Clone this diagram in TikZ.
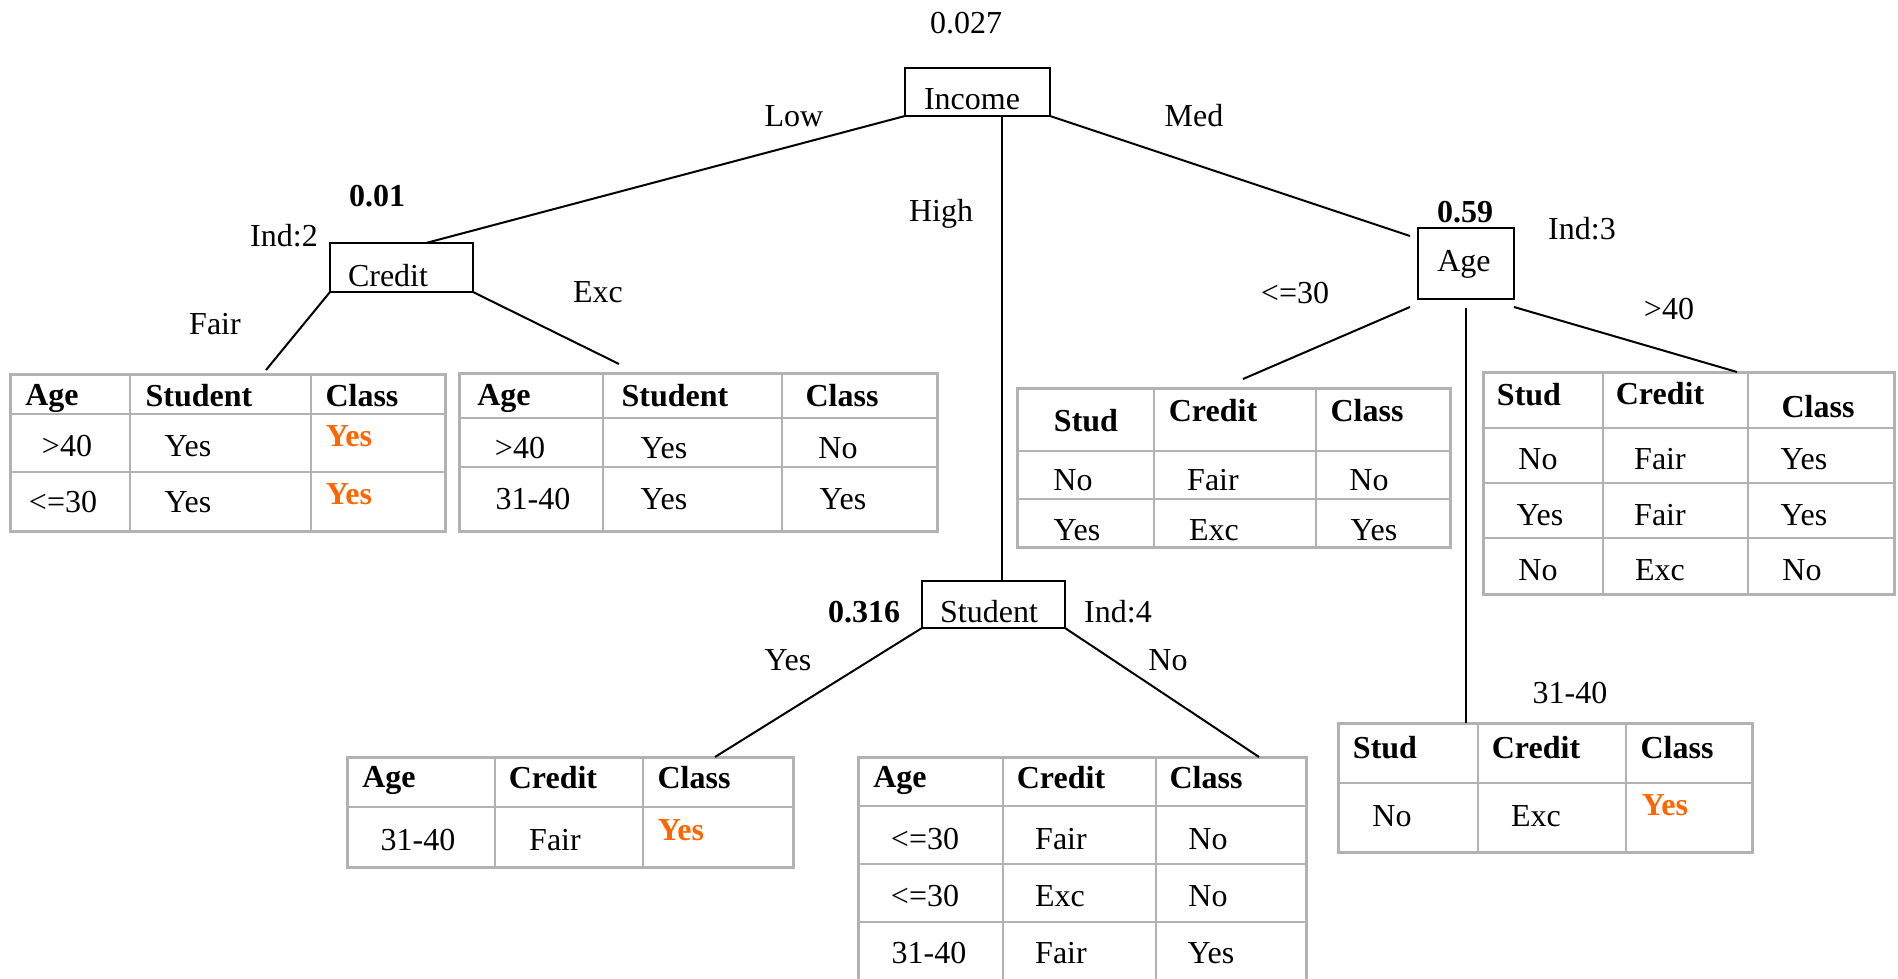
\documentclass[tikz,border=0pt]{standalone}
\usepackage{fontspec}
\setmainfont{Liberation Serif}
\definecolor{tgray}{RGB}{178,178,178}
\definecolor{hiorange}{RGB}{255,102,0}
\begin{document}
\begin{tikzpicture}[x=1pt,y=-1pt,
  font=\fontsize{32}{38}\selectfont,
  box/.style={draw=black, line width=2.5pt, inner sep=0pt, outer sep=0pt},
  edge/.style={draw=black, line width=2pt},
  tbl/.style={draw=tgray, line width=3pt, inner sep=0pt, outer sep=0pt},
  grid/.style={draw=tgray, line width=1.6pt},
  lbl/.style={inner sep=0pt, text height=22pt, text depth=0pt, anchor=center},
  bl/.style={lbl, font=\fontsize{32}{38}\selectfont\bfseries},
  hy/.style={bl, text=hiorange}]
\useasboundingbox (0,0) rectangle (1898,979);
\clip (0,0) rectangle (1898,979);

% ---------- tables ----------
\draw[grid] (130,374)--(130,531) (311,374)--(311,531) (10,414)--(445,414) (10,472)--(445,472);
\node[tbl, minimum width=435pt, minimum height=157pt] (t1) at (227.5,452.5) {};
\draw[grid] (603,373)--(603,531) (782,373)--(782,531) (459,418)--(937,418) (459,467)--(937,467);
\node[tbl, minimum width=478pt, minimum height=158pt] (t2) at (698,452) {};
\draw[grid] (1154,388)--(1154,547) (1316,388)--(1316,547) (1017,451)--(1450,451) (1017,499)--(1450,499);
\node[tbl, minimum width=433pt, minimum height=159pt] (t3) at (1233.5,467.5) {};
\draw[grid] (1603,372)--(1603,594) (1748,372)--(1748,594) (1483,428)--(1894,428) (1483,483)--(1894,483) (1483,538)--(1894,538);
\node[tbl, minimum width=411pt, minimum height=222pt] (t4) at (1688.5,483) {};
\draw[grid] (1478,723)--(1478,852) (1626,723)--(1626,852) (1338,783)--(1752,783);
\node[tbl, minimum width=414pt, minimum height=129pt] (t5) at (1545,787.5) {};
\draw[grid] (495,757)--(495,867) (643,757)--(643,867) (347,807)--(793,807);
\node[tbl, minimum width=446pt, minimum height=110pt] (t6) at (570,812) {};
\draw[grid] (1003,757)--(1003,1000) (1156,757)--(1156,1000) (858,806)--(1306,806) (858,864)--(1306,864) (858,922)--(1306,922);
\node[tbl, minimum width=448pt, minimum height=243pt] (t7) at (1082,878.5) {};

% ---------- decision boxes ----------
\node[box, minimum width=145pt, minimum height=48pt] (inc) at (977.5,92) {};
\node[box, minimum width=143pt, minimum height=49pt] (cred) at (401.5,267.5) {};
\node[box, minimum width=96pt, minimum height=71pt] (age) at (1466,263.5) {};
\node[box, minimum width=143pt, minimum height=47pt] (stud) at (993.5,604.5) {};

% ---------- connectors ----------
\coordinate (c1) at (266,370);
\coordinate (c2) at (619,364);
\coordinate (c3) at (1243,379);
\coordinate (c4) at (1737,372);
\draw[edge] (inc.south west) -- ([xshift=24.5pt]cred.north);
\draw[edge] ([xshift=24.5pt]inc.south) -- ([xshift=8.5pt]stud.north);
\draw[edge] (inc.south east) -- ([xshift=-8pt,yshift=-8pt]age.north west);
\draw[edge] (cred.south west) -- (c1);
\draw[edge] (cred.south east) -- (c2);
\draw[edge] ([xshift=-8pt,yshift=-8pt]age.south west) -- (c3);
\draw[edge] ([yshift=-9pt]age.south) -- (age.south |- t5.north);
\draw[edge] ([yshift=-8pt]age.south east) -- (c4);
\draw[edge] (stud.south west) -- ([xshift=145pt]t6.north);
\draw[edge] (stud.south east) -- ([xshift=177pt]t7.north);

% ---------- box texts and labels ----------
\node[lbl] (incT) at (972,99) {Income};
\node[lbl] (credT) at (388,275) {Credit};
\node[lbl] (ageT) at (1464,260) {Age};
\node[lbl] (studT) at (989,611) {Student};
\node[lbl] (v027) at (966,23) {0.027};
\node[bl] (v001) at (377,195) {0.01};
\node[bl] (v059) at (1465,211) {0.59};
\node[bl] (v0316) at (864,611) {0.316};
\node[lbl] (ind2) at (284,235) {Ind:2};
\node[lbl] (ind3) at (1582,228) {Ind:3};
\node[lbl] (ind4) at (1118,611) {Ind:4};
\node[lbl] (lLow) at (794,116) {Low};
\node[lbl] (lMed) at (1194,116) {Med};
\node[lbl] (lHigh) at (941,210) {High};
\node[lbl] (lFair) at (215,323) {Fair};
\node[lbl] (lExc) at (598,291) {Exc};
\node[lbl] (lLe30) at (1295,292) {<=30};
\node[lbl] (lGt40) at (1669,308) {>40};
\node[lbl] (l3140) at (1570,692) {31-40};
\node[lbl] (lYes) at (788,659) {Yes};
\node[lbl] (lNo) at (1168,659) {No};

% table 1
\node[bl] (a11) at (52,394) {Age};
\node[bl] (a12) at (199,395) {Student};
\node[bl] (a13) at (362,395) {Class};
\node[lbl] (a21) at (67,445) {>40};
\node[lbl] (a22) at (188,445) {Yes};
\node[hy] (a23) at (349,435) {Yes};
\node[lbl] (a31) at (63,501) {<=30};
\node[lbl] (a32) at (188,501) {Yes};
\node[hy] (a33) at (349,493) {Yes};
% table 2
\node[bl] (b11) at (504,394) {Age};
\node[bl] (b12) at (675,395) {Student};
\node[bl] (b13) at (842,395) {Class};
\node[lbl] (b21) at (520,447) {>40};
\node[lbl] (b22) at (664,447) {Yes};
\node[lbl] (b23) at (838,447) {No};
\node[lbl] (b31) at (533,498) {31-40};
\node[lbl] (b32) at (664,498) {Yes};
\node[lbl] (b33) at (843,498) {Yes};
% table 3 (<=30)
\node[bl] (c11) at (1086,420) {Stud};
\node[bl] (c12) at (1213,410) {Credit};
\node[bl] (c13) at (1367,410) {Class};
\node[lbl] (c21) at (1073,479) {No};
\node[lbl] (c22) at (1213,479) {Fair};
\node[lbl] (c23) at (1369,479) {No};
\node[lbl] (c31) at (1077,529) {Yes};
\node[lbl] (c32) at (1214,529) {Exc};
\node[lbl] (c33) at (1374,529) {Yes};
% table 4 (>40)
\node[bl] (d11) at (1529,394) {Stud};
\node[bl] (d12) at (1660,393) {Credit};
\node[bl] (d13) at (1818,406) {Class};
\node[lbl] (d21) at (1538,458) {No};
\node[lbl] (d22) at (1660,458) {Fair};
\node[lbl] (d23) at (1804,458) {Yes};
\node[lbl] (d31) at (1540,514) {Yes};
\node[lbl] (d32) at (1660,514) {Fair};
\node[lbl] (d33) at (1804,514) {Yes};
\node[lbl] (d41) at (1538,569) {No};
\node[lbl] (d42) at (1660,569) {Exc};
\node[lbl] (d43) at (1802,569) {No};
% table 5 (31-40)
\node[bl] (e11) at (1385,747) {Stud};
\node[bl] (e12) at (1536,747) {Credit};
\node[bl] (e13) at (1677,747) {Class};
\node[lbl] (e21) at (1392,815) {No};
\node[lbl] (e22) at (1536,815) {Exc};
\node[hy] (e23) at (1665,804) {Yes};
% table 6 (student yes)
\node[bl] (f11) at (389,776) {Age};
\node[bl] (f12) at (553,777) {Credit};
\node[bl] (f13) at (694,777) {Class};
\node[lbl] (f21) at (418,839) {31-40};
\node[lbl] (f22) at (555,839) {Fair};
\node[hy] (f23) at (681,829) {Yes};
% table 7 (student no)
\node[bl] (g11) at (900,776) {Age};
\node[bl] (g12) at (1061,777) {Credit};
\node[bl] (g13) at (1206,777) {Class};
\node[lbl] (g21) at (925,838) {<=30};
\node[lbl] (g22) at (1061,838) {Fair};
\node[lbl] (g23) at (1208,838) {No};
\node[lbl] (g31) at (925,895) {<=30};
\node[lbl] (g32) at (1060,895) {Exc};
\node[lbl] (g33) at (1208,895) {No};
\node[lbl] (g41) at (929,952) {31-40};
\node[lbl] (g42) at (1061,952) {Fair};
\node[lbl] (g43) at (1211,952) {Yes};
\end{tikzpicture}
\end{document}
